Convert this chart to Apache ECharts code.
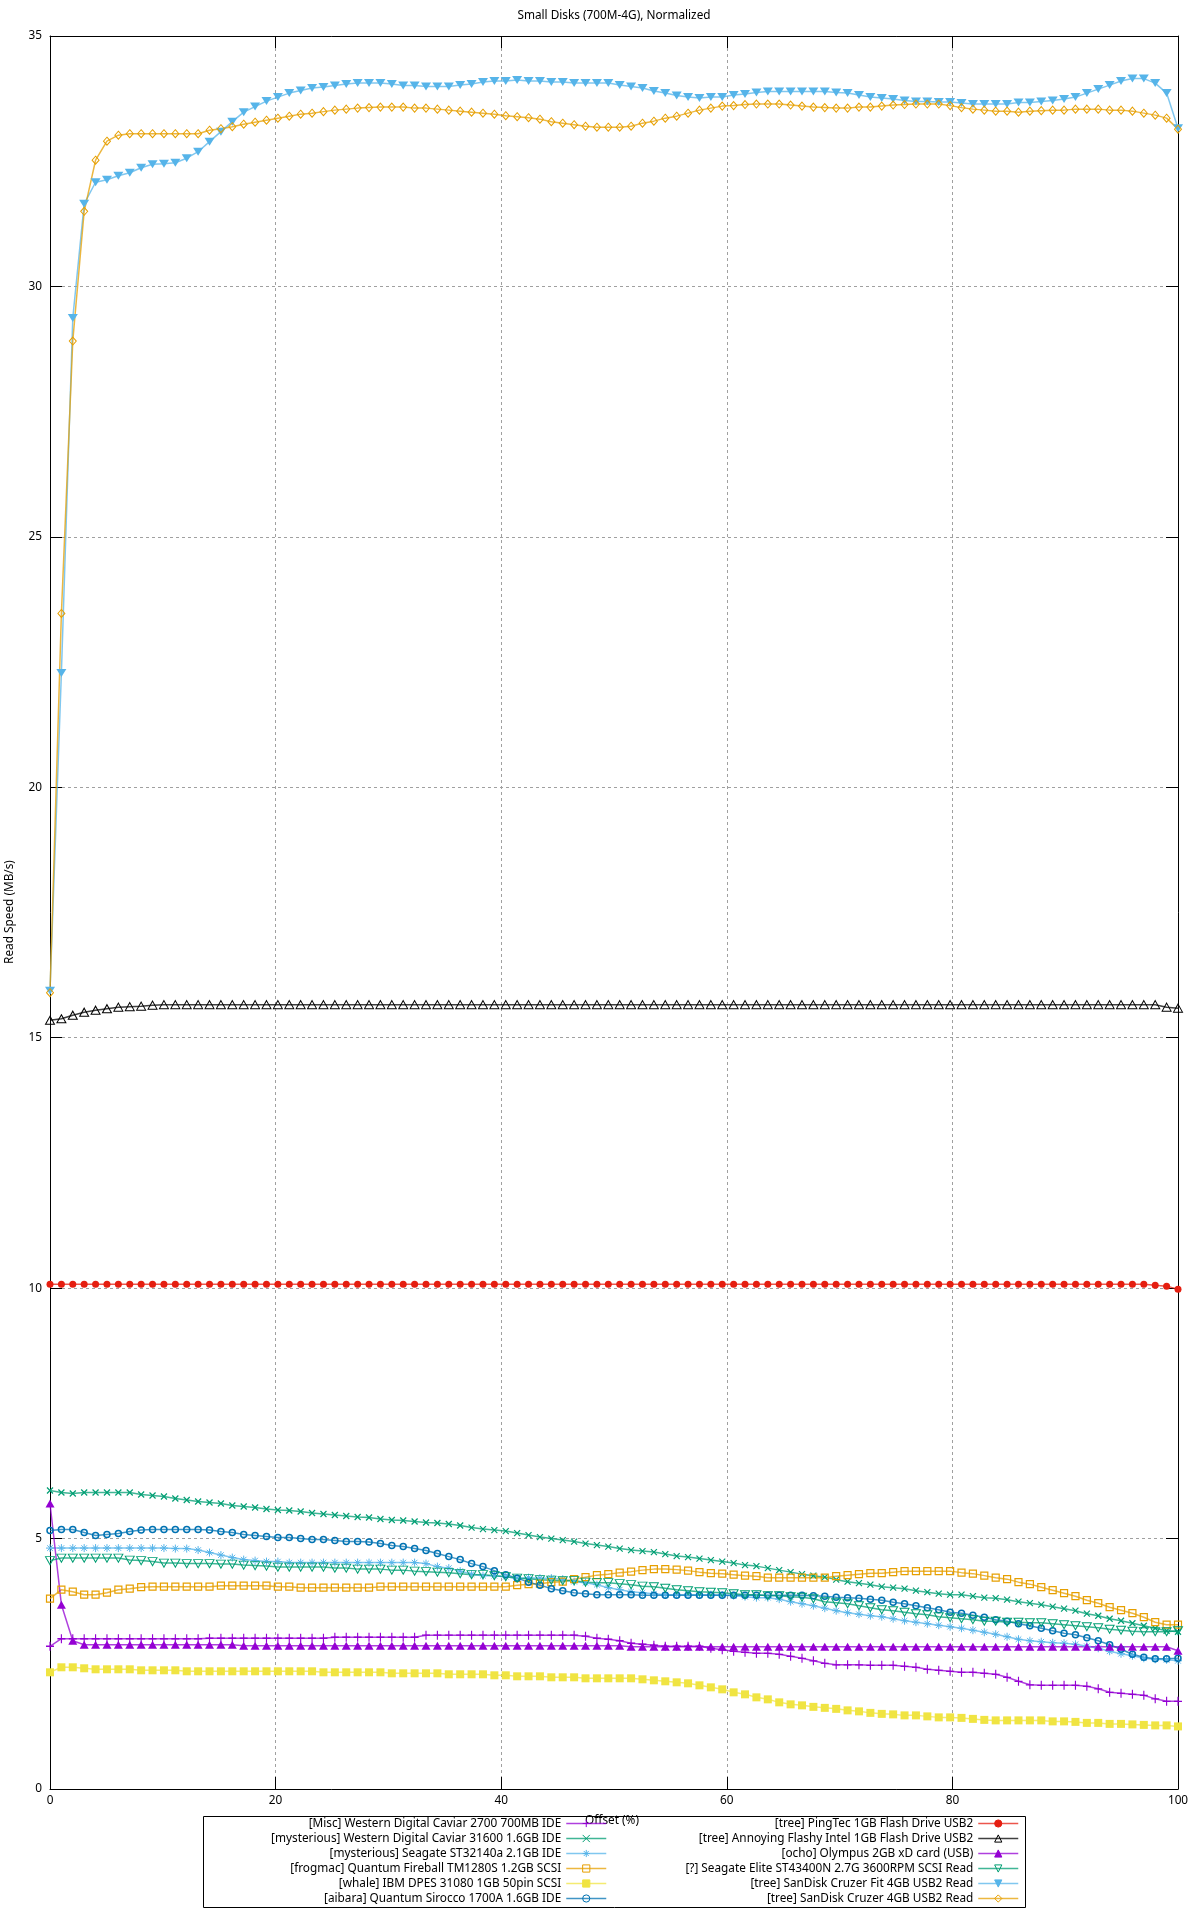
<!DOCTYPE html>
<html><head><meta charset="utf-8">
<script src="https://cdn.jsdelivr.net/npm/echarts@6/dist/echarts.min.js"></script>
<style>html,body{margin:0;padding:0;background:#fff}#c{width:1200px;height:1920px}</style>
</head><body><div id="c"></div><script>
// sampling grid: 100 samples evenly spread over 0..100 %
const offsets = Array.from({length: 100}, (_, i) => i * 100 / 99);
const xTicks = [0, 20, 40, 60, 80, 100];
const yTicks = [0, 5, 10, 15, 20, 25, 30, 35];

const seriesNames = [
  "[Misc] Western Digital Caviar 2700 700MB IDE",
  "[mysterious] Western Digital Caviar 31600 1.6GB IDE",
  "[mysterious] Seagate ST32140a 2.1GB IDE",
  "[frogmac] Quantum Fireball TM1280S 1.2GB SCSI",
  "[whale] IBM DPES 31080 1GB 50pin SCSI",
  "[aibara] Quantum Sirocco 1700A 1.6GB IDE",
  "[tree] PingTec 1GB Flash Drive USB2",
  "[tree] Annoying Flashy Intel 1GB Flash Drive USB2",
  "[ocho] Olympus 2GB xD card (USB)",
  "[?] Seagate Elite ST43400N 2.7G 3600RPM SCSI Read",
  "[tree] SanDisk Cruzer Fit 4GB USB2 Read",
  "[tree] SanDisk Cruzer 4GB USB2 Read"
];

const wd2700 = [
  2.85,3.00,3.00,3.00,3.00,3.00,3.00,3.00,3.00,3.00,
  3.00,3.00,3.00,3.00,3.01,3.01,3.01,3.01,3.01,3.01,
  3.01,3.01,3.01,3.01,3.01,3.03,3.03,3.03,3.03,3.03,
  3.03,3.03,3.03,3.07,3.07,3.07,3.07,3.07,3.07,3.07,
  3.07,3.07,3.07,3.07,3.07,3.07,3.07,3.05,3.01,2.99,
  2.96,2.91,2.89,2.87,2.85,2.85,2.85,2.85,2.81,2.78,
  2.75,2.73,2.71,2.71,2.69,2.65,2.61,2.56,2.51,2.48,
  2.48,2.48,2.47,2.47,2.47,2.45,2.43,2.39,2.37,2.35,
  2.33,2.33,2.31,2.29,2.23,2.15,2.08,2.07,2.07,2.07,
  2.07,2.05,2.00,1.93,1.91,1.89,1.87,1.80,1.75,1.75
];
const wd31600 = [
  5.96,5.92,5.90,5.92,5.92,5.92,5.92,5.92,5.88,5.86,
  5.84,5.80,5.77,5.74,5.72,5.70,5.66,5.64,5.62,5.59,
  5.57,5.56,5.54,5.51,5.49,5.47,5.45,5.43,5.42,5.39,
  5.37,5.36,5.34,5.32,5.31,5.29,5.26,5.22,5.19,5.17,
  5.15,5.11,5.07,5.03,5.00,4.97,4.94,4.90,4.87,4.84,
  4.80,4.77,4.75,4.73,4.69,4.65,4.63,4.60,4.57,4.54,
  4.51,4.47,4.45,4.41,4.37,4.33,4.29,4.26,4.23,4.18,
  4.14,4.11,4.08,4.04,4.02,4.00,3.96,3.93,3.90,3.88,
  3.88,3.85,3.82,3.81,3.78,3.74,3.71,3.68,3.64,3.60,
  3.56,3.50,3.46,3.40,3.36,3.31,3.26,3.21,3.16,3.14
];
const st32140 = [
  4.81,4.81,4.81,4.81,4.81,4.81,4.81,4.81,4.81,4.81,
  4.81,4.80,4.80,4.77,4.72,4.67,4.62,4.58,4.56,4.54,
  4.54,4.52,4.52,4.52,4.52,4.52,4.52,4.52,4.52,4.52,
  4.52,4.52,4.52,4.50,4.44,4.41,4.35,4.29,4.26,4.26,
  4.24,4.21,4.22,4.21,4.21,4.19,4.14,4.12,4.08,4.02,
  3.98,3.94,3.92,3.90,3.88,3.88,3.88,3.88,3.88,3.87,
  3.86,3.84,3.82,3.82,3.79,3.74,3.70,3.66,3.61,3.56,
  3.52,3.49,3.46,3.44,3.40,3.36,3.33,3.30,3.27,3.24,
  3.21,3.17,3.13,3.09,3.04,2.99,2.96,2.94,2.92,2.91,
  2.89,2.85,2.81,2.75,2.70,2.66,2.61,2.59,2.58,2.56
];
const fireball = [
  3.80,3.98,3.94,3.88,3.88,3.92,3.98,4.00,4.03,4.04,
  4.04,4.04,4.04,4.04,4.04,4.06,4.06,4.06,4.06,4.06,
  4.04,4.04,4.02,4.02,4.02,4.02,4.02,4.02,4.02,4.04,
  4.04,4.04,4.04,4.04,4.04,4.04,4.04,4.04,4.04,4.04,
  4.04,4.07,4.09,4.10,4.13,4.14,4.19,4.23,4.27,4.29,
  4.32,4.34,4.37,4.39,4.39,4.38,4.36,4.33,4.31,4.30,
  4.28,4.26,4.25,4.22,4.22,4.22,4.22,4.22,4.22,4.25,
  4.27,4.29,4.31,4.31,4.33,4.35,4.35,4.35,4.35,4.35,
  4.32,4.30,4.26,4.22,4.19,4.13,4.09,4.03,3.97,3.91,
  3.85,3.77,3.71,3.63,3.57,3.51,3.43,3.33,3.28,3.28
];
const ibm = [
  2.33,2.43,2.43,2.41,2.39,2.39,2.39,2.39,2.37,2.37,
  2.37,2.37,2.35,2.35,2.35,2.35,2.35,2.35,2.35,2.35,
  2.35,2.35,2.35,2.35,2.33,2.33,2.33,2.33,2.33,2.33,
  2.31,2.31,2.31,2.31,2.31,2.29,2.29,2.29,2.29,2.27,
  2.27,2.25,2.25,2.25,2.23,2.23,2.23,2.21,2.21,2.21,
  2.21,2.21,2.19,2.17,2.15,2.13,2.11,2.07,2.03,1.99,
  1.93,1.89,1.83,1.79,1.73,1.69,1.67,1.64,1.62,1.60,
  1.57,1.55,1.52,1.50,1.49,1.47,1.47,1.45,1.43,1.43,
  1.42,1.40,1.38,1.37,1.37,1.37,1.37,1.37,1.35,1.35,
  1.34,1.32,1.32,1.30,1.30,1.29,1.28,1.27,1.27,1.25
];
const sirocco = [
  5.16,5.18,5.18,5.12,5.06,5.08,5.10,5.14,5.17,5.18,
  5.18,5.18,5.18,5.18,5.17,5.14,5.12,5.08,5.06,5.04,
  5.02,5.02,5.00,4.98,4.98,4.96,4.94,4.94,4.93,4.90,
  4.86,4.84,4.80,4.76,4.70,4.64,4.58,4.50,4.44,4.36,
  4.28,4.21,4.13,4.07,4.00,3.96,3.92,3.90,3.88,3.88,
  3.88,3.88,3.87,3.87,3.87,3.87,3.87,3.87,3.87,3.87,
  3.87,3.87,3.87,3.87,3.87,3.87,3.87,3.86,3.85,3.83,
  3.82,3.81,3.79,3.77,3.73,3.70,3.66,3.62,3.58,3.53,
  3.51,3.47,3.43,3.38,3.35,3.30,3.26,3.21,3.16,3.11,
  3.08,3.02,2.96,2.88,2.79,2.69,2.63,2.60,2.60,2.61
];
const pingtec = [
  10.08,10.08,10.08,10.08,10.08,10.08,10.08,10.08,10.08,10.08,
  10.08,10.08,10.08,10.08,10.08,10.08,10.08,10.08,10.08,10.08,
  10.08,10.08,10.08,10.08,10.08,10.08,10.08,10.08,10.08,10.08,
  10.08,10.08,10.08,10.08,10.08,10.08,10.08,10.08,10.08,10.08,
  10.08,10.08,10.08,10.08,10.08,10.08,10.08,10.08,10.08,10.08,
  10.08,10.08,10.08,10.08,10.08,10.08,10.08,10.08,10.08,10.08,
  10.08,10.08,10.08,10.08,10.08,10.08,10.08,10.08,10.08,10.08,
  10.08,10.08,10.08,10.08,10.08,10.08,10.08,10.08,10.08,10.08,
  10.08,10.08,10.08,10.08,10.08,10.08,10.08,10.08,10.08,10.08,
  10.08,10.08,10.08,10.08,10.08,10.08,10.08,10.06,10.04,9.98
];
const annoying = [
  15.35,15.38,15.45,15.51,15.55,15.58,15.61,15.62,15.63,15.65,
  15.66,15.66,15.66,15.66,15.66,15.66,15.66,15.66,15.66,15.66,
  15.66,15.66,15.66,15.66,15.66,15.66,15.66,15.66,15.66,15.66,
  15.66,15.66,15.66,15.66,15.66,15.66,15.66,15.66,15.66,15.66,
  15.66,15.66,15.66,15.66,15.66,15.66,15.66,15.66,15.66,15.66,
  15.66,15.66,15.66,15.66,15.66,15.66,15.66,15.66,15.66,15.66,
  15.66,15.66,15.66,15.66,15.66,15.66,15.66,15.66,15.66,15.66,
  15.66,15.66,15.66,15.66,15.66,15.66,15.66,15.66,15.66,15.66,
  15.66,15.66,15.66,15.66,15.66,15.66,15.66,15.66,15.66,15.66,
  15.66,15.66,15.66,15.66,15.66,15.66,15.66,15.66,15.61,15.59
];
const olympus = [
  5.70,3.68,2.96,2.88,2.88,2.88,2.88,2.88,2.88,2.88,
  2.88,2.88,2.88,2.88,2.88,2.88,2.88,2.86,2.86,2.86,
  2.86,2.86,2.86,2.86,2.86,2.86,2.86,2.86,2.86,2.86,
  2.86,2.86,2.86,2.86,2.86,2.86,2.86,2.86,2.86,2.86,
  2.86,2.86,2.86,2.86,2.86,2.86,2.86,2.86,2.86,2.86,
  2.86,2.84,2.84,2.84,2.84,2.84,2.84,2.84,2.84,2.84,
  2.84,2.84,2.84,2.84,2.84,2.84,2.84,2.84,2.84,2.84,
  2.84,2.84,2.84,2.84,2.84,2.84,2.84,2.84,2.84,2.84,
  2.84,2.84,2.84,2.84,2.84,2.84,2.84,2.84,2.84,2.84,
  2.84,2.84,2.84,2.84,2.84,2.84,2.84,2.84,2.84,2.76
];
const seagateElite = [
  4.56,4.61,4.61,4.61,4.61,4.61,4.61,4.57,4.56,4.54,
  4.51,4.51,4.50,4.50,4.50,4.49,4.49,4.47,4.46,4.45,
  4.43,4.43,4.43,4.43,4.43,4.41,4.41,4.39,4.39,4.39,
  4.37,4.37,4.35,4.34,4.33,4.32,4.30,4.28,4.28,4.26,
  4.24,4.21,4.20,4.18,4.17,4.16,4.16,4.13,4.12,4.12,
  4.10,4.08,4.05,4.04,4.01,3.98,3.96,3.94,3.93,3.92,
  3.90,3.88,3.88,3.86,3.86,3.84,3.83,3.80,3.74,3.72,
  3.70,3.66,3.62,3.58,3.56,3.53,3.50,3.48,3.44,3.42,
  3.40,3.38,3.35,3.35,3.33,3.33,3.32,3.32,3.30,3.28,
  3.26,3.24,3.22,3.19,3.17,3.15,3.14,3.14,3.14,3.16
];
const cruzerFit = [
  15.94,22.28,29.37,31.65,32.08,32.13,32.21,32.27,32.37,32.44,
  32.45,32.47,32.56,32.69,32.89,33.09,33.29,33.48,33.59,33.70,
  33.78,33.86,33.91,33.96,33.98,34.01,34.04,34.06,34.06,34.06,
  34.04,34.01,34.01,33.99,33.99,33.99,34.02,34.04,34.08,34.10,
  34.10,34.12,34.10,34.10,34.08,34.08,34.06,34.06,34.06,34.06,
  34.02,33.99,33.96,33.90,33.86,33.81,33.78,33.76,33.78,33.78,
  33.82,33.84,33.87,33.89,33.89,33.89,33.89,33.89,33.89,33.87,
  33.86,33.82,33.78,33.76,33.74,33.71,33.69,33.69,33.68,33.68,
  33.66,33.64,33.64,33.64,33.64,33.67,33.67,33.69,33.71,33.74,
  33.78,33.86,33.94,34.02,34.10,34.15,34.15,34.06,33.86,33.16
];
const cruzer = [
  15.90,23.47,28.91,31.50,32.52,32.90,33.02,33.05,33.05,33.05,
  33.05,33.05,33.05,33.05,33.12,33.15,33.19,33.24,33.28,33.32,
  33.36,33.40,33.44,33.46,33.49,33.52,33.54,33.56,33.57,33.58,
  33.58,33.58,33.56,33.56,33.54,33.52,33.50,33.48,33.46,33.44,
  33.41,33.39,33.37,33.34,33.29,33.26,33.23,33.20,33.18,33.18,
  33.18,33.20,33.26,33.30,33.36,33.40,33.46,33.52,33.56,33.60,
  33.61,33.63,33.64,33.64,33.64,33.62,33.60,33.58,33.57,33.56,
  33.56,33.58,33.58,33.60,33.62,33.63,33.64,33.64,33.64,33.61,
  33.57,33.54,33.52,33.50,33.50,33.48,33.50,33.51,33.52,33.52,
  33.54,33.54,33.54,33.52,33.52,33.50,33.46,33.42,33.36,33.14
];

const C = {purple:'#9400d3', green:'#009e73', sky:'#56b4e9', orange:'#e69f00',
           yellow:'#f0e442', blue:'#0072b2', red:'#e51e10', black:'#000000'};
const SYM = {
  plus: 'path://M5,0L5,10M0,5L10,5',
  cross: 'path://M0,0L10,10M10,0L0,10',
  star: 'path://M5,0L5,10M0,5L10,5M1.5,1.5L8.5,8.5M8.5,1.5L1.5,8.5',
  invTri: 'path://M0,0L10,0L5,9Z'
};
const FONT = '"Noto Sans", sans-serif';
const FS = 11.8;

function mk(name, vals, color, symbol, size, open, bw) {
  return {
    name: name, type: 'line',
    data: offsets.map((x, i) => [x, vals[i]]),
    symbol: symbol, symbolSize: size, showSymbol: true, showAllSymbol: true,
    smooth: false, silent: true,
    lineStyle: {color: color, width: 1.5, opacity: 0.75},
    itemStyle: open ? {color: 'rgba(0,0,0,0)', borderColor: color, borderWidth: bw || 1}
                    : {color: color, borderColor: color, borderWidth: 0},
    emphasis: {disabled: true}
  };
}

const series = [
  mk(seriesNames[0], wd2700, C.purple, SYM.plus, [8, 9], true, 1.2),
  mk(seriesNames[1], wd31600, C.green, SYM.cross, 6, true, 1.2),
  mk(seriesNames[2], st32140, C.sky, SYM.star, 8, true, 1),
  mk(seriesNames[3], fireball, C.orange, 'rect', 7, true, 1.2),
  mk(seriesNames[4], ibm, C.yellow, 'rect', 8, false),
  mk(seriesNames[5], sirocco, C.blue, 'circle', 6, true, 1.5),
  mk(seriesNames[6], pingtec, C.red, 'circle', 7, false),
  mk(seriesNames[7], annoying, C.black, 'triangle', [9, 8], true, 1),
  mk(seriesNames[8], olympus, C.purple, 'triangle', [9, 8], false),
  mk(seriesNames[9], seagateElite, C.green, SYM.invTri, [9, 8], true, 1),
  mk(seriesNames[10], cruzerFit, C.sky, SYM.invTri, [10, 8], false),
  mk(seriesNames[11], cruzer, C.orange, 'diamond', [7, 8], true, 1)
];

const gridLine = {show: true, lineStyle: {color: '#a0a0a0', type: [3, 3], width: 1}};
const tick = {show: true, inside: true, length: 12, lineStyle: {color: '#000', width: 1}};
const line = {show: true, onZero: false, lineStyle: {color: '#000', width: 1}};

function legendFor(names, right) {
  return {
    data: names, orient: 'vertical', align: 'right', right: right, top: 1817,
    padding: 0, itemWidth: 40, itemHeight: 9, itemGap: 2, selectedMode: false,
    itemStyle: {borderWidth: 1},
    lineStyle: {width: 1.5},
    textStyle: {fontFamily: FONT, fontSize: FS, lineHeight: 13, color: '#000'}
  };
}

const chart = echarts.init(document.getElementById('c'), null, {renderer: 'canvas'});
chart.setOption({
  animation: false,
  backgroundColor: '#fff',
  grid: {left: 50, right: 22, top: 36, bottom: 131, containLabel: false},
  xAxis: [
    {type: 'value', position: 'bottom', min: xTicks[0], max: xTicks[xTicks.length - 1], interval: 20,
     axisLine: line, axisTick: tick, splitLine: gridLine,
     axisLabel: {fontFamily: FONT, fontSize: FS, color: '#000', margin: 6}},
    {type: 'value', position: 'top', min: xTicks[0], max: xTicks[xTicks.length - 1], interval: 20,
     axisLine: line, axisTick: tick, splitLine: {show: false}, axisLabel: {show: false}}
  ],
  yAxis: [
    {type: 'value', position: 'left', min: yTicks[0], max: yTicks[yTicks.length - 1], interval: 5,
     axisLine: line, axisTick: tick, splitLine: gridLine,
     axisLabel: {fontFamily: FONT, fontSize: FS, color: '#000', margin: 8}},
    {type: 'value', position: 'right', min: yTicks[0], max: yTicks[yTicks.length - 1], interval: 5,
     axisLine: line, axisTick: tick, splitLine: {show: false}, axisLabel: {show: false}}
  ],
  legend: [legendFor(seriesNames.slice(0, 6), 593), legendFor(seriesNames.slice(6), 181)],
  graphic: [
    {type: 'text', x: 614, y: 16, silent: true,
     style: {text: 'Small Disks (700M-4G), Normalized', font: FS + 'px ' + FONT, fill: '#000', align: 'center', verticalAlign: 'middle'}},
    {type: 'text', x: 10, y: 912, rotation: Math.PI / 2, silent: true,
     style: {text: 'Read Speed (MB/s)', font: FS + 'px ' + FONT, fill: '#000', align: 'center', verticalAlign: 'middle'}},
    {type: 'text', x: 612, y: 1821, silent: true,
     style: {text: 'Offset (%)', font: FS + 'px ' + FONT, fill: '#000', align: 'center', verticalAlign: 'middle'}},
    {type: 'rect', silent: true, shape: {x: 203.5, y: 1816.5, width: 822, height: 91},
     style: {fill: 'none', stroke: '#000', lineWidth: 1}}
  ],
  series: series
});
</script></body></html>
